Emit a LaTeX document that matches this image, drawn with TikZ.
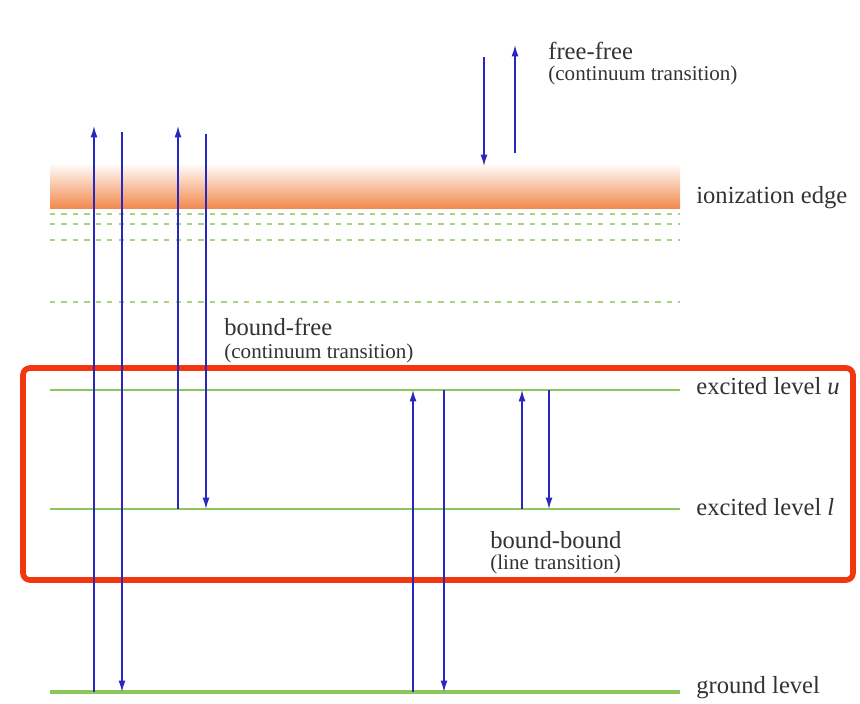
\documentclass[tikz,border=0pt]{standalone}
\usepackage{fontspec}
\setmainfont{Liberation Serif}
\usepackage{tikz}
\usetikzlibrary{arrows.meta,positioning}
\definecolor{levelgreen}{HTML}{8DC65A}
\definecolor{dashgreen}{HTML}{A8D47E}
\definecolor{edgeorange}{HTML}{F28A4E}
\definecolor{arrowblue}{HTML}{2828C0}
\definecolor{boxred}{HTML}{F2360F}
\definecolor{labelgray}{HTML}{333333}

\begin{document}
\begin{tikzpicture}[
    x={(0.02cm,0)}, y={(0,-0.02cm)},
    level/.style={levelgreen, line width=1.6pt},
    boundlevel/.style={dashgreen, line width=1.2pt, dash pattern=on 3pt off 3.5pt},
    trans/.style={arrowblue, line width=0.8pt, -{Latex[length=6.5pt,width=4pt]}},
    lbl/.style={font=\fontsize{14}{16}\selectfont, color=labelgray, anchor=west, inner sep=0pt},
    sublbl/.style={font=\fontsize{12}{14}\selectfont, color=labelgray, anchor=west, inner sep=0pt},
]
\useasboundingbox (0,0) rectangle (860,704);

% ionization edge (continuum)
\shade[top color=white, bottom color=edgeorange] (50,163) rectangle (680,208);
\node[lbl] (ionlbl) at (696,198) {ionization edge};

% high bound levels
\foreach \yy in {214,224,240,302}{
  \draw[boundlevel] (50,\yy) -- (680,\yy);
}

% levels
\draw[level] (50,390) -- (680,390);
\draw[level] (50,509) -- (680,509);
\draw[level, line width=2.8pt] (50,692) -- (680,692);
\node[lbl] (ulbl) at (696,386) {excited level \textit{u}};
\node[lbl] (llbl) at (696,507) {excited level \textit{l}};
\node[lbl] (glbl) at (696,688) {ground level};

% highlight box
\draw[boxred, line width=3.2pt, rounded corners=4pt] (23,368) rectangle (853,580);

% end points of the transitions
\coordinate (g1) at (94,692);   \coordinate (c1) at (94,126);
\coordinate (c2) at (122,132);  \coordinate (g2) at (122,692);
\coordinate (l3) at (178,509);  \coordinate (c3) at (178,126);
\coordinate (c4) at (206,134);  \coordinate (l4) at (206,509);
\coordinate (g5) at (413,692);  \coordinate (u5) at (413,390);
\coordinate (u6) at (444,390);  \coordinate (g6) at (444,692);
\coordinate (l7) at (522,509);  \coordinate (u7) at (522,390);
\coordinate (u8) at (549,390);  \coordinate (l8) at (549,509);
\coordinate (f1) at (484,57);   \coordinate (f2) at (484,166);
\coordinate (f3) at (515,153);  \coordinate (f4) at (515,45);

% bound-free
\draw[trans] (g1) -- (c1);
\draw[trans] (c2) -- (g2);
\draw[trans] (l3) -- (c3);
\draw[trans] (c4) -- (l4);
\node[lbl] (bflbl) at (224,327) {bound-free};
\node[sublbl, below=4pt of bflbl.south west, anchor=north west] (bfsub) {(continuum transition)};

% bound-bound
\draw[trans] (g5) -- (u5);
\draw[trans] (u6) -- (g6);
\draw[trans] (l7) -- (u7);
\draw[trans] (u8) -- (l8);
\node[lbl] (bblbl) at (490,540) {bound-bound};
\node[sublbl, below=3pt of bblbl.south west, anchor=north west] (bbsub) {(line transition)};

% free-free
\draw[trans] (f1) -- (f2);
\draw[trans] (f3) -- (f4);
\node[lbl] (fflbl) at (548,51) {free-free};
\node[sublbl, below=3pt of fflbl.south west, anchor=north west] (ffsub) {(continuum transition)};

\end{tikzpicture}
\end{document}
